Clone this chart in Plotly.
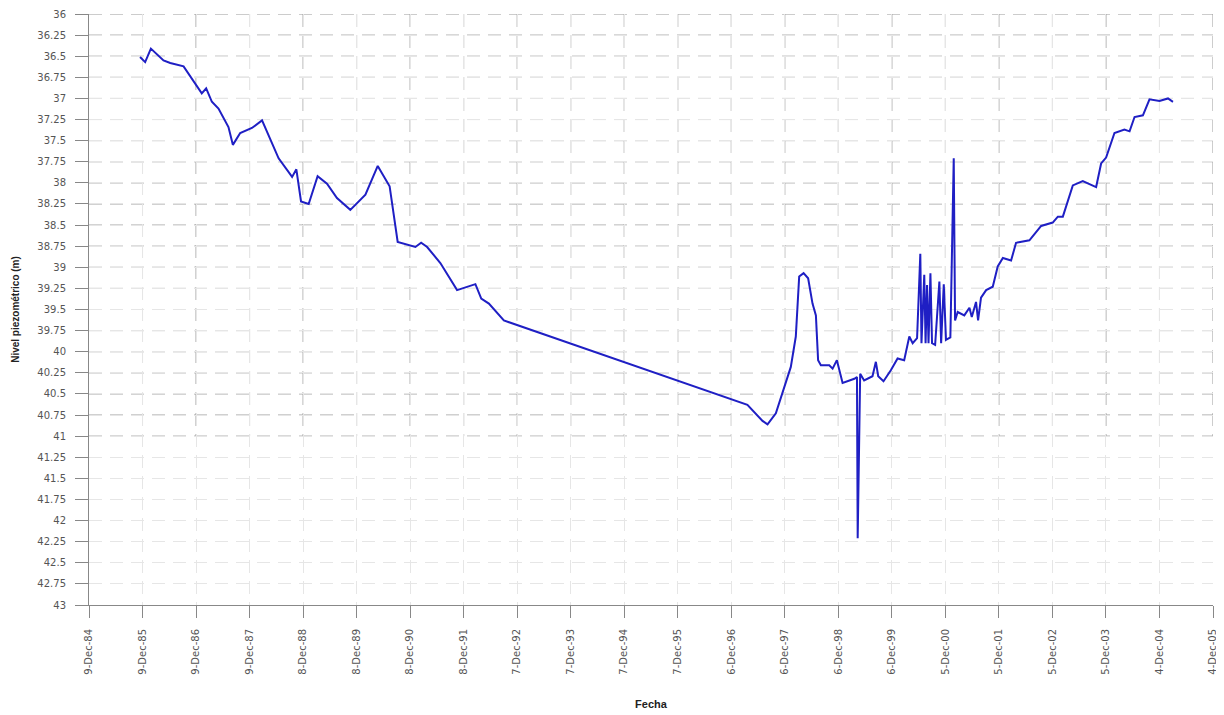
import plotly.graph_objects as go

# Observation dates and piezometric levels (m)
fechas = [
    "1985-11-22", "1985-12-27", "1986-02-04", "1986-05-01", "1986-06-16", "1986-09-15",
    "1987-01-17", "1987-02-16", "1987-03-27", "1987-05-11", "1987-07-18", "1987-08-17",
    "1987-10-06", "1987-12-25", "1988-03-03", "1988-06-24", "1988-09-24", "1988-10-23",
    "1988-11-24", "1989-01-15", "1989-03-17", "1989-05-20", "1989-07-27", "1989-10-26",
    "1990-02-06", "1990-05-01", "1990-07-21", "1990-09-14", "1991-01-13", "1991-02-21",
    "1991-04-03", "1991-07-02", "1991-10-24", "1992-02-26", "1992-04-06", "1992-05-28",
    "1992-09-07", "1993-03-08", "1997-03-26", "1997-07-07", "1997-08-10", "1997-10-06",
    "1997-12-02", "1998-01-16", "1998-02-19", "1998-03-14", "1998-04-13", "1998-05-14",
    "1998-06-13", "1998-07-06", "1998-07-21", "1998-08-09", "1998-10-05", "1998-10-28",
    "1998-11-26", "1999-01-04", "1999-03-25", "1999-04-12", "1999-04-17", "1999-05-04",
    "1999-05-31", "1999-07-27", "1999-08-19", "1999-09-04", "1999-10-10", "1999-11-29",
    "2000-01-14", "2000-02-28", "2000-04-03", "2000-04-26", "2000-05-26", "2000-06-17",
    "2000-06-25", "2000-07-14", "2000-07-23", "2000-08-02", "2000-08-12", "2000-08-25",
    "2000-09-05", "2000-09-26", "2000-10-25", "2000-11-06", "2000-11-24", "2000-12-09",
    "2001-01-08", "2001-01-31", "2001-02-09", "2001-02-27", "2001-04-13", "2001-05-18",
    "2001-06-03", "2001-07-02", "2001-07-16", "2001-08-05", "2001-09-09", "2001-10-24",
    "2001-11-27", "2002-01-01", "2002-02-26", "2002-04-01", "2002-07-01", "2002-09-19",
    "2002-12-07", "2003-01-11", "2003-02-14", "2003-04-23", "2003-06-30", "2003-09-29",
    "2003-11-02", "2003-12-06", "2004-02-01", "2004-04-09", "2004-05-14", "2004-06-17",
    "2004-08-13", "2004-09-27", "2004-12-04", "2005-01-31", "2005-03-06",
]
nivel = [
    36.51, 36.57, 36.41, 36.55, 36.58, 36.62,
    36.94, 36.88, 37.04, 37.12, 37.34, 37.55,
    37.41, 37.35, 37.26, 37.71, 37.93, 37.84,
    38.22, 38.25, 37.92, 38.01, 38.18, 38.32,
    38.14, 37.80, 38.04, 38.70, 38.76, 38.71,
    38.76, 38.95, 39.27, 39.20, 39.37, 39.43,
    39.63, 39.74, 40.63, 40.82, 40.86, 40.73,
    40.42, 40.18, 39.82, 39.11, 39.07, 39.13,
    39.43, 39.57, 40.10, 40.16, 40.16, 40.20,
    40.10, 40.37, 40.32, 40.30, 42.21, 40.26,
    40.34, 40.29, 40.12, 40.29, 40.35, 40.22,
    40.08, 40.10, 39.82, 39.90, 39.84, 38.84,
    39.90, 39.09, 39.90, 39.21, 39.90, 39.07,
    39.90, 39.92, 39.17, 39.90, 39.20, 39.86,
    39.83, 37.71, 39.63, 39.53, 39.57, 39.48,
    39.59, 39.41, 39.63, 39.36, 39.27, 39.23,
    38.99, 38.89, 38.92, 38.71, 38.68, 38.51,
    38.47, 38.40, 38.40, 38.03, 37.98, 38.05,
    37.77, 37.70, 37.41, 37.37, 37.39, 37.22,
    37.20, 37.01, 37.03, 37.00, 37.04,
]

# X axis ticks (365-day steps as in the original)
tick_fechas = [
    "1984-12-09", "1985-12-09", "1986-12-09", "1987-12-09", "1988-12-08", "1989-12-08",
    "1990-12-08", "1991-12-08", "1992-12-07", "1993-12-07", "1994-12-07", "1995-12-07",
    "1996-12-06", "1997-12-06", "1998-12-06", "1999-12-06", "2000-12-05", "2001-12-05",
    "2002-12-05", "2003-12-05", "2004-12-04", "2005-12-04",
]
tick_textos = [
    "9-Dec-84", "9-Dec-85", "9-Dec-86", "9-Dec-87", "8-Dec-88", "8-Dec-89",
    "8-Dec-90", "8-Dec-91", "7-Dec-92", "7-Dec-93", "7-Dec-94", "7-Dec-95",
    "6-Dec-96", "6-Dec-97", "6-Dec-98", "6-Dec-99", "5-Dec-00", "5-Dec-01",
    "5-Dec-02", "5-Dec-03", "4-Dec-04", "4-Dec-05",
]
y_ticks = [36 + 0.25 * i for i in range(29)]

FONT = "Liberation Sans, Arial, sans-serif"
TICKFONT = "DejaVu Sans, Liberation Sans, sans-serif"
GRID_DARK = "#9a9a9a"
GRID_LIGHT = "#e6e6e6"
DASH = "13px,8px"

fig = go.Figure()
fig.add_trace(go.Scatter(
    x=fechas, y=nivel, mode="lines",
    line=dict(color="#1f1fc4", width=2),
    showlegend=False,
))

shapes = []
# darker dashed grid in the upper part (36 - 41), faint below
for v in y_ticks:
    if v <= 41:
        shapes.append(dict(type="line", xref="paper", yref="y", x0=0, x1=1, y0=v, y1=v,
                           line=dict(color=GRID_DARK, width=1, dash=DASH), layer="below"))
for t in tick_fechas[1:]:
    shapes.append(dict(type="line", xref="x", yref="y", x0=t, x1=t, y0=36, y1=41,
                       line=dict(color=GRID_DARK, width=1, dash=DASH), layer="below"))

# page body has an 8px margin, so the figure is slightly smaller than the window
fig.update_layout(
    width=1216, height=707,
    margin=dict(l=81, r=11, t=6, b=110),
    paper_bgcolor="white", plot_bgcolor="white",
    font=dict(family=FONT, color="#333333"),
    shapes=shapes,
    showlegend=False,
)
fig.update_xaxes(
    range=[tick_fechas[0], tick_fechas[-1]], automargin=False,
    tickmode="array", tickvals=tick_fechas, ticktext=tick_textos,
    tickangle=-90, tickfont=dict(family=TICKFONT, size=10, color="#555555"),
    ticks="outside", ticklen=12, tickcolor="#888888", ticklabelstandoff=7,
    showline=True, linecolor="#888888", linewidth=1,
    showgrid=True, gridcolor=GRID_LIGHT, griddash=DASH, gridwidth=1,
    zeroline=False,
    title=dict(text="<b>Fecha</b>", font=dict(size=11, color="#222222"), standoff=26),
)
fig.update_yaxes(
    range=[43, 36], tickmode="array", tickvals=y_ticks, automargin=False,
    tickfont=dict(family=TICKFONT, size=10, color="#555555"),
    ticks="outside", ticklen=13, tickcolor="#888888", ticklabelstandoff=7,
    showline=True, linecolor="#888888", linewidth=1,
    showgrid=True, gridcolor=GRID_LIGHT, griddash=DASH, gridwidth=1,
    zeroline=False,
    title=dict(text="<b>Nivel piezométrico (m)</b>", font=dict(size=10, color="#222222"), standoff=15),
)

fig.write_html("out.html")
